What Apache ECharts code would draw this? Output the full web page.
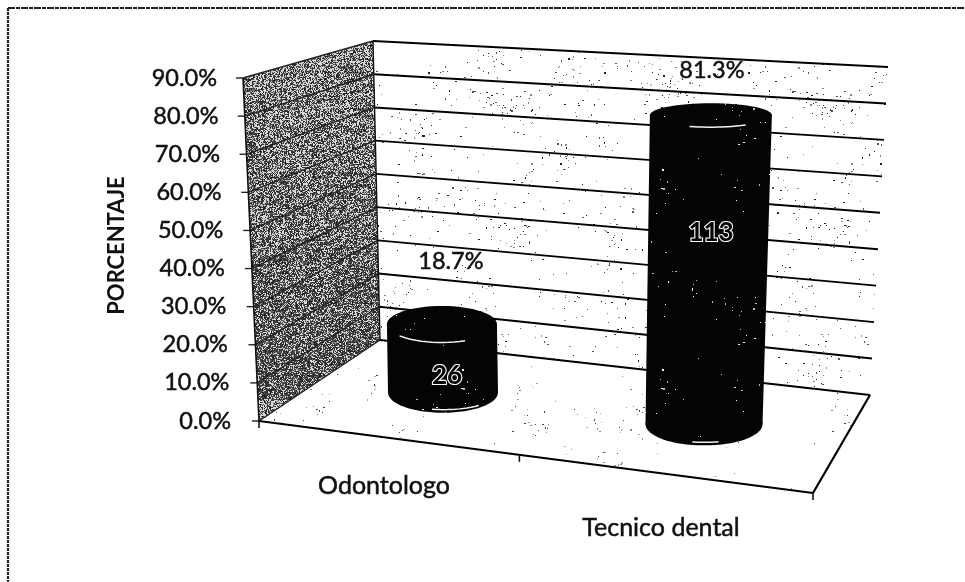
<!DOCTYPE html>
<html>
<head>
<meta charset="utf-8">
<style>html,body{margin:0;padding:0;background:#fff}#c{width:965px;height:582px}</style>
<script src="https://cdn.jsdelivr.net/npm/echarts@6/dist/echarts.min.js"></script>
</head>
<body>
<div id="c"></div>
<script>
// ---- data ----
const categories = ['Odontologo', 'Tecnico dental'];
const percentages = [18.7, 81.3];
const counts = [26, 113];
const yTicks = [0, 10, 20, 30, 40, 50, 60, 70, 80, 90];

// ---- layout of the pseudo-3D box (screen pixels) ----
const GRID = {left: 243, top: 78, width: 570, height: 343};
const FONT = 'Lato, "Open Sans", sans-serif';
const floorBL = [380, 340], floorBR = [870, 395], floorFL = [259, 421], floorFR = [813, 493];
const upBL = [-7, -299], upBR = [18, -328], upFL = [-16, -343], upFR = [10, -370];
const BAR_DEPTH = 0.5, BAR_SHIFT = [-7, -4];
const barRx = [[55, 55], [58.5, 61]];
const pctLabelShift = [[9, -63], [1, -45]];
const countLabelShift = [[4, -17], [7, -192]];
const catLabelPos = [[384, 486], [661, 528]];
const highlightSpan = [[-0.77, 0.42], [-0.35, 0.57]];
const baseHighlightSpan = [[-0.2, 0.65], [-0.2, 0.25]];
const xTickU = [0, 0.47, 1];

function lerp(a, b, t) { return [a[0] + (b[0] - a[0]) * t, a[1] + (b[1] - a[1]) * t]; }
function project(u, d, frac) {
  const f = lerp(lerp(floorBL, floorBR, u), lerp(floorFL, floorFR, u), d);
  const h = lerp(lerp(upBL, upBR, u), lerp(upFL, upFR, u), d);
  return [f[0] + h[0] * frac, f[1] + h[1] * frac];
}

// ---- scan-like textures (seeded, decoration only) ----
function rng(seed) { let s = seed >>> 0; return function () { s = (s * 1664525 + 1013904223) >>> 0; return s / 4294967296; }; }
function speckle(seed, size, bg, inks, clusters, perCluster, spread, loose) {
  const c = document.createElement('canvas'); c.width = c.height = size;
  const g = c.getContext('2d'); g.fillStyle = bg; g.fillRect(0, 0, size, size);
  const r = rng(seed);
  function ink() { g.fillStyle = inks[Math.floor(r() * inks.length)]; }
  for (let i = 0; i < clusters; i++) {
    const cx = r() * size, cy = r() * size;
    for (let k = 0; k < perCluster; k++) {
      const x = (cx + (r() - 0.5) * spread + size) % size, y = (cy + (r() - 0.5) * spread + size) % size;
      ink(); g.fillRect(Math.floor(x), Math.floor(y), r() < 0.3 ? 2 : 1, r() < 0.2 ? 2 : 1);
    }
  }
  for (let i = 0; i < loose; i++) { ink(); g.fillRect(Math.floor(r() * size), Math.floor(r() * size), r() < 0.25 ? 2 : 1, 1); }
  return c;
}
function grain(seed, w, h) {
  const c = document.createElement('canvas'); c.width = w; c.height = h;
  const g = c.getContext('2d'); const r = rng(seed);
  g.fillStyle = '#d8d8d8'; g.fillRect(0, 0, w, h);
  for (let y = 0; y < h; y++) for (let x = 0; x < w; x++) {
    const p = 0.48 + 0.26 * y / h;
    if (r() < p) { const v = 25 + Math.floor(r() * 70); g.fillStyle = 'rgb(' + v + ',' + v + ',' + v + ')'; g.fillRect(x, y, 1, 1); }
  }
  for (let i = 0; i < 130; i++) {
    const cx = r() * w, cy = h * (0.15 + 0.85 * r());
    g.fillStyle = 'rgba(30,30,30,0.55)';
    g.fillRect(cx, cy, 6 + r() * 14, 1 + r() * 2);
  }
  return c;
}
const backFill = {image: speckle(7, 320, '#ffffff', ['#222222', '#555555', '#888888'], 70, 8, 30, 200), repeat: 'repeat'};
const floorFill = {image: speckle(23, 320, '#ffffff', ['#444444', '#888888', '#aaaaaa'], 26, 8, 26, 90), repeat: 'repeat'};
const wallFill = {image: grain(11, 256, 400), repeat: 'repeat'};
const barFill = {image: speckle(41, 200, '#040404', ['#f4f4f4', '#bbbbbb'], 11, 5, 34, 26), repeat: 'repeat'};

function poly(pts, style, z2) { return {type: 'polygon', z2: z2 || 0, shape: {points: pts}, style: style}; }
function line(a, b, w, color, z2) { return {type: 'line', z2: z2 || 1, shape: {x1: a[0], y1: a[1], x2: b[0], y2: b[1]}, style: {stroke: color || '#000', lineWidth: w, fill: null}}; }

function renderFrame(params, api) {
  const y0 = api.coord([0, 0])[1], yTop = api.coord([0, yTicks[yTicks.length - 1]])[1];
  const els = [];
  const BLt = project(0, 0, 1), BRt = project(1, 0, 1), FLt = project(0, 1, 1);
  els.push(poly([BLt, BRt, floorBR, floorBL], {fill: backFill}));
  els.push(poly([floorBL, floorBR, floorFR, floorFL], {fill: floorFill}));
  els.push(poly([FLt, BLt, floorBL, floorFL], {fill: wallFill}));
  yTicks.forEach(function (t) {
    const frac = (y0 - api.coord([0, t])[1]) / (y0 - yTop);
    const a = project(0, 1, frac), b = project(0, 0, frac), c = project(1, 0, frac);
    els.push(line(a, b, 1.4, '#222'));
    els.push(line(b, c, 1.9, '#000'));
    els.push(line([a[0] - 7, a[1]], a, 1.4, '#222'));
  });
  els.push(line(BLt, floorBL, 1.4, '#111'));
  els.push(line(FLt, floorFL, 1.6, '#111'));
  els.push(line(floorFL, floorFR, 2.2, '#000'));
  els.push(line(floorFR, floorBR, 2.2, '#000'));
  xTickU.forEach(function (u) {
    const p = project(u, 1, 0);
    els.push(line(p, [p[0], p[1] + 7], 1.6, '#111'));
  });
  els.push({type: 'line', shape: {x1: 8, y1: 8, x2: 965, y2: 8}, style: {stroke: '#222', lineWidth: 2, lineDash: [7, 1, 4, 1]}});
  els.push({type: 'line', shape: {x1: 8, y1: 8, x2: 8, y2: 582}, style: {stroke: '#222', lineWidth: 2.2, lineDash: [3, 1]}});
  return {type: 'group', children: els};
}

function ellipseRy(y) { return 8.5 + 0.03 * y; }

function frontArc(c, rx, ry, span, inset) {
  const pts = [];
  for (let k = 0; k <= 12; k++) {
    const s = span[0] + (span[1] - span[0]) * k / 12;
    pts.push([c[0] + rx * s, c[1] + (ry - inset) * Math.sqrt(1 - s * s)]);
  }
  return {type: 'polyline', shape: {points: pts}, style: {stroke: '#f2f2f2', lineWidth: 1.5, fill: null}};
}

function renderBar(params, api) {
  const i = api.value(0), v = api.value(1);
  const y0 = api.coord([i, 0])[1], yTop = api.coord([i, yTicks[yTicks.length - 1]])[1];
  const u = (api.coord([i, 0])[0] - GRID.left) / GRID.width;
  const frac = (y0 - api.coord([i, v])[1]) / (y0 - yTop);
  const b = project(u, BAR_DEPTH, 0), t = project(u, BAR_DEPTH, frac);
  b[0] += BAR_SHIFT[0]; b[1] += BAR_SHIFT[1]; t[0] += BAR_SHIFT[0]; t[1] += BAR_SHIFT[1];
  const rxB = barRx[i][0], rxT = barRx[i][1];
  const ryB = ellipseRy(b[1]), ryT = ellipseRy(t[1]);
  const style = {fill: barFill};
  const children = [
    poly([[t[0] - rxT, t[1]], [t[0] + rxT, t[1]], [b[0] + rxB, b[1]], [b[0] - rxB, b[1]]], style),
    {type: 'ellipse', shape: {cx: b[0], cy: b[1], rx: rxB, ry: ryB}, style: style},
    {type: 'ellipse', shape: {cx: t[0], cy: t[1], rx: rxT, ry: ryT}, style: style},
    frontArc(t, rxT, ryT, highlightSpan[i], 0),
    frontArc(b, rxB, ryB, baseHighlightSpan[i], 3)
  ];
  const pl = pctLabelShift[i], cl = countLabelShift[i], cp = catLabelPos[i];
  const ink = {fill: '#111', stroke: '#111', lineWidth: 0.5};
  children.push({type: 'text', z2: 5, style: Object.assign({text: v.toFixed(1) + '%', x: t[0] + pl[0], y: t[1] + pl[1], align: 'center', verticalAlign: 'middle', font: '23.5px ' + FONT}, ink)});
  children.push({type: 'text', z2: 5, style: {text: String(api.value(2)), x: b[0] + cl[0], y: b[1] + cl[1], align: 'center', verticalAlign: 'middle', fill: '#050505', stroke: '#ffffff', lineWidth: 2.2, font: '700 26px ' + FONT}});
  children.push({type: 'text', z2: 5, style: Object.assign({text: categories[i], x: cp[0], y: cp[1], align: 'center', verticalAlign: 'middle', font: '25px ' + FONT}, ink)});
  return {type: 'group', children: children};
}

const padRich = {};
yTicks.forEach(function (t) { padRich['p' + t] = {width: t / 90 * 14, height: 1}; });
padRich.t = {fontSize: 23.5, fontFamily: FONT, color: '#111', textBorderColor: '#111', textBorderWidth: 0.5};

const chart = echarts.init(document.getElementById('c'), null, {renderer: 'canvas'});
chart.setOption({
  animation: false,
  backgroundColor: '#fff',
  grid: GRID,
  xAxis: {type: 'category', data: categories, axisLine: {show: false}, axisTick: {show: false}, axisLabel: {show: false}},
  yAxis: {
    type: 'value', min: 0, max: 90, interval: 10,
    name: 'PORCENTAJE', nameLocation: 'middle', nameGap: 115,
    nameTextStyle: {fontFamily: FONT, fontWeight: 700, fontSize: 22, color: '#111', padding: [0, 0, 0, 8]},
    axisLine: {show: false}, axisTick: {show: false}, splitLine: {show: false},
    axisLabel: {
      margin: 12,
      formatter: function (v) { return '{t|' + v.toFixed(1) + '%}{p' + v + '| }'; },
      rich: padRich
    }
  },
  series: [
    {type: 'custom', z: 1, clip: false, silent: true, renderItem: renderFrame, data: [[0, 0]], encode: {x: 0, y: 1}},
    {type: 'custom', z: 2, clip: false, silent: true, renderItem: renderBar,
      data: categories.map(function (c, i) { return [i, percentages[i], counts[i]]; }), encode: {x: 0, y: 1}}
  ]
});
</script>
</body>
</html>
